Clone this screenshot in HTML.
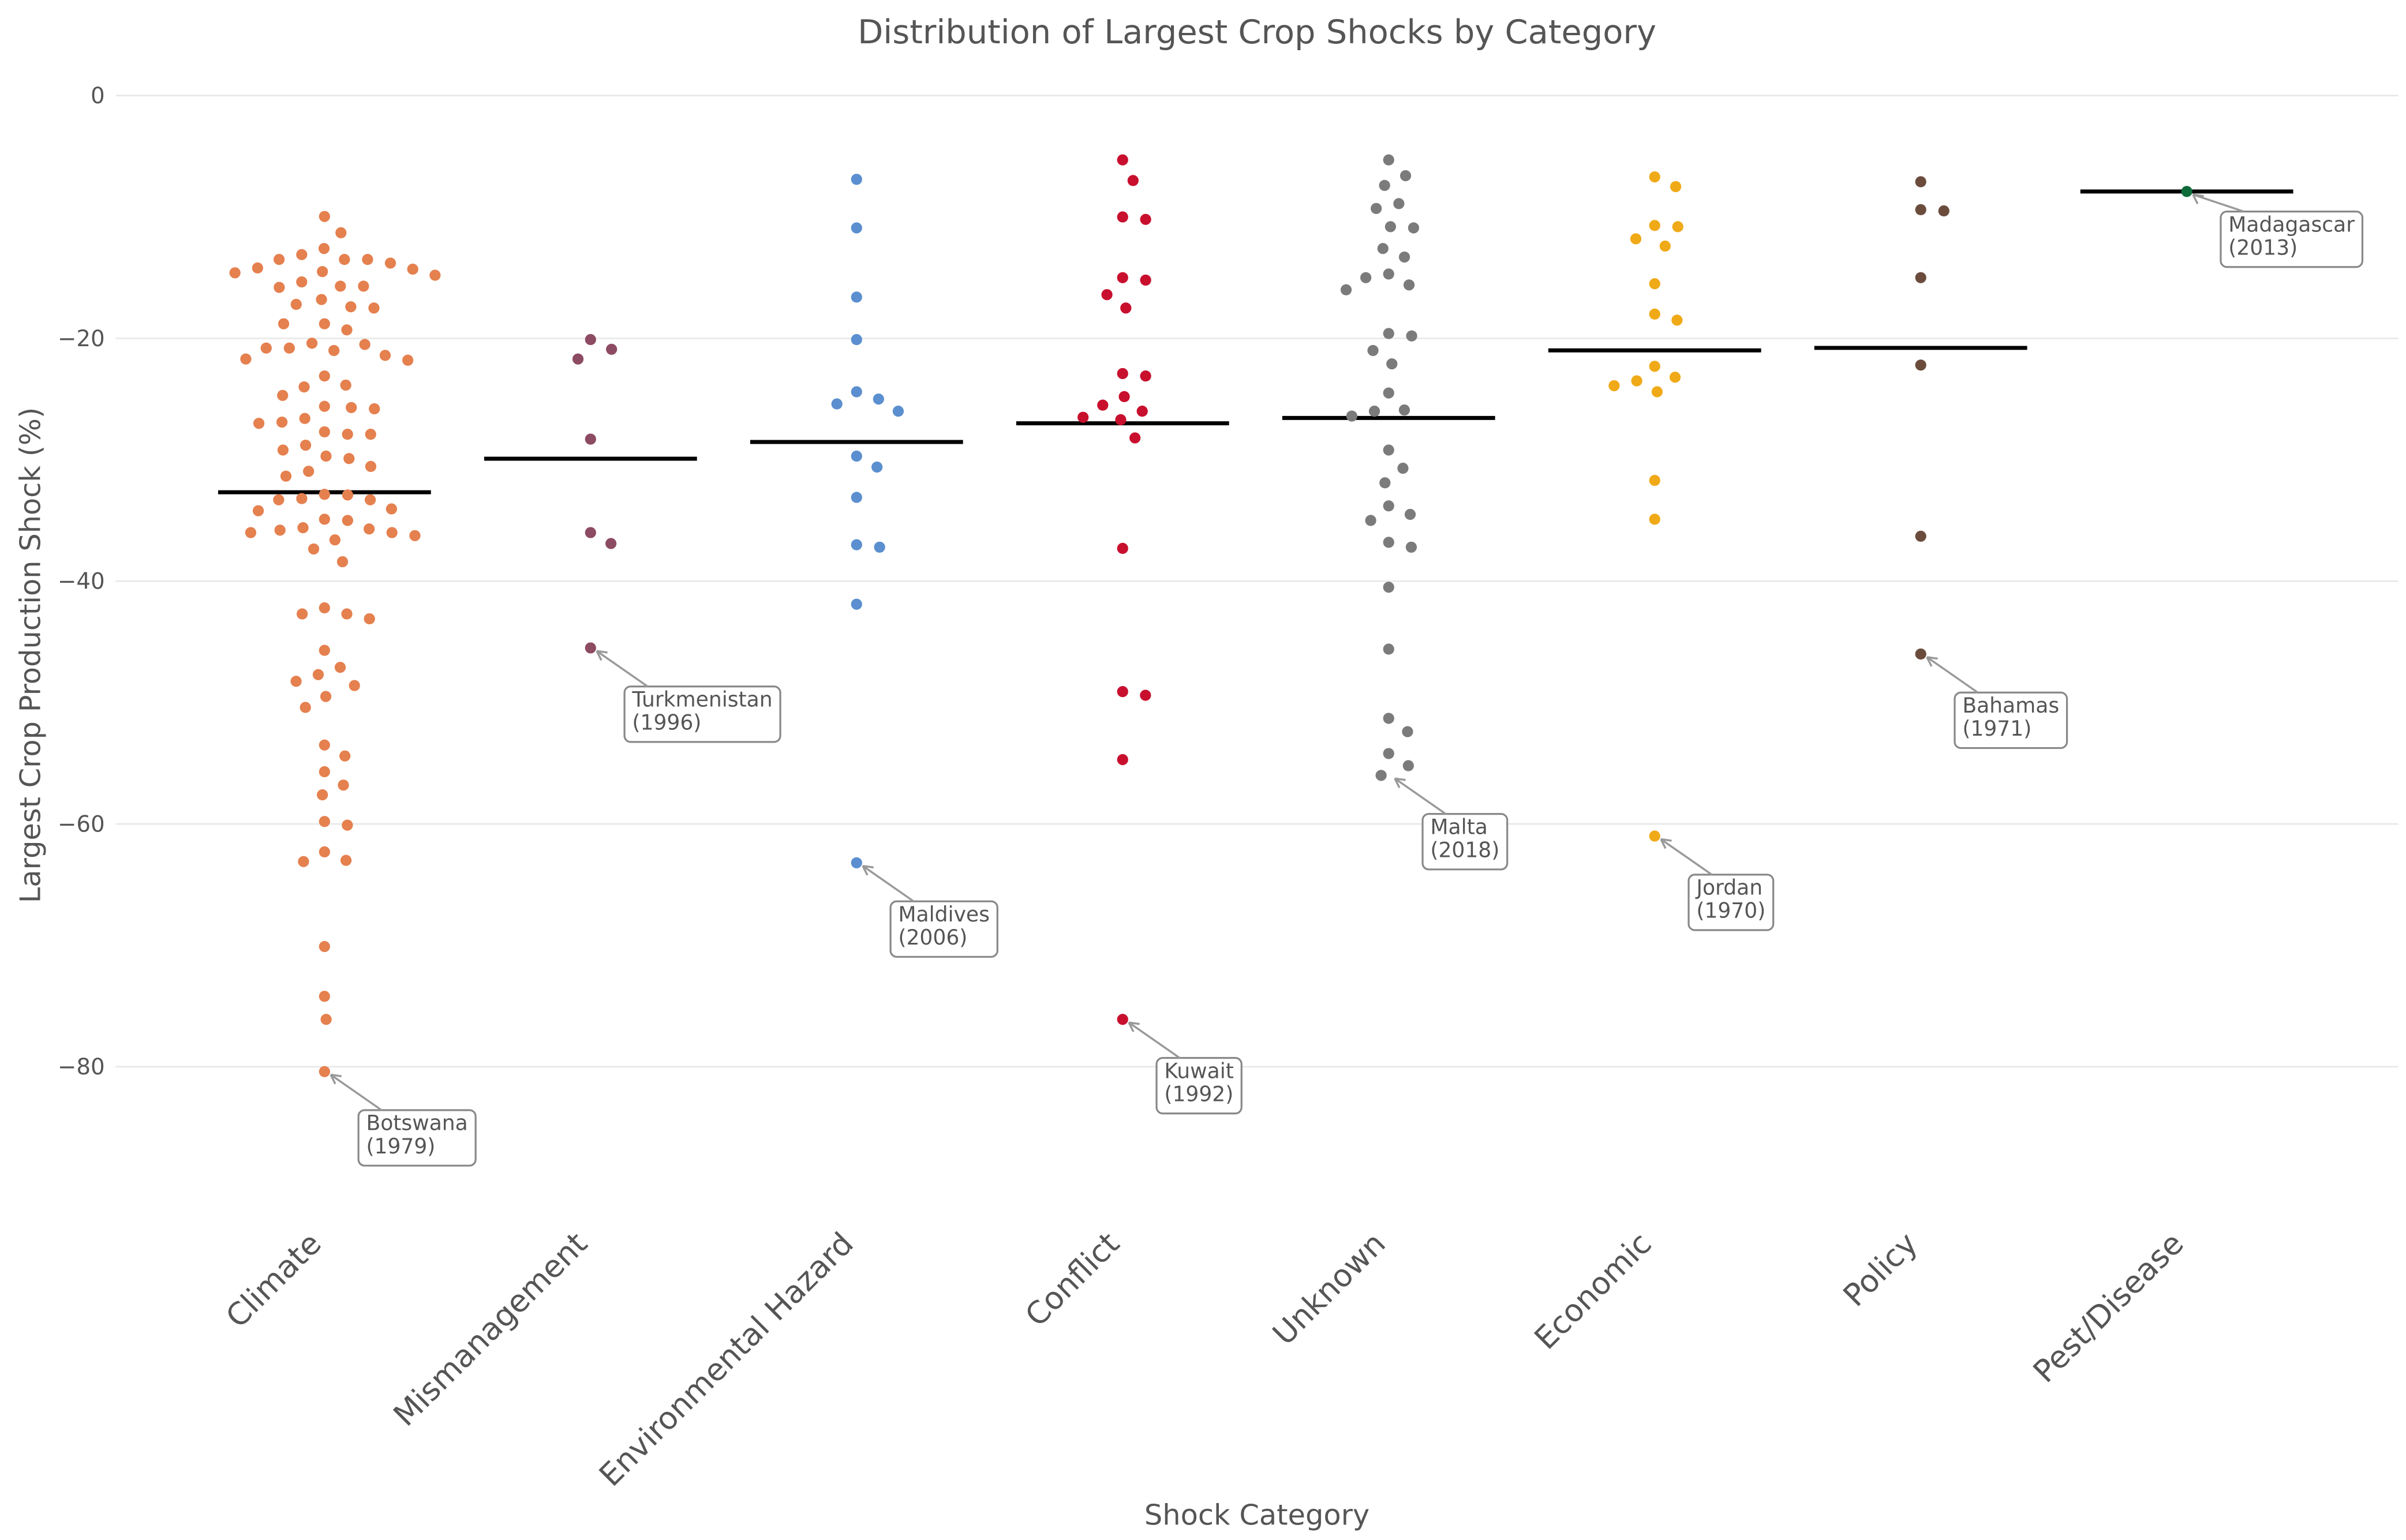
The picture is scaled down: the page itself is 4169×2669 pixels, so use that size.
<!DOCTYPE html>
<html><head><meta charset="utf-8"><style>
html,body{margin:0;padding:0;background:#fff;}
svg{display:block;font-family:"DejaVu Sans","Liberation Sans",sans-serif;}
</style></head><body>
<svg id="chart" width="4169" height="2669" viewBox="0 0 1560 999" preserveAspectRatio="none" xmlns="http://www.w3.org/2000/svg">
<text x="815" y="28" text-anchor="middle" font-size="21.5" fill="#555">Distribution of Largest Crop Shocks by Category</text>
<text x="815" y="989" text-anchor="middle" font-size="18.5" fill="#555">Shock Category</text>
<text transform="translate(26,425) rotate(-90)" text-anchor="middle" font-size="18.5" fill="#555">Largest Crop Production Shock (%)</text>
<g id="grid"></g><g id="yticks"></g><g id="xticks"></g><g id="means"></g><g id="dots"></g><g id="ann"></g>
</svg>
<script>
const categories = ["Climate","Mismanagement","Environmental Hazard","Conflict","Unknown","Economic","Policy","Pest/Disease"];
const colors = ["#e5804f","#8c4b62","#5b8fcf","#c8102e","#7b7b7b","#f0aa18","#6b4c3c","#0f6b3a"];
const climateVals = [-9.96,-11.3,-12.6,-13.1,-13.5,-13.5,-13.5,-13.8,-14.2,-14.3,-14.5,-14.6,-14.8,-15.35,-15.7,-15.7,-15.8,-16.8,-17.2,-17.4,-17.5,-18.8,-18.8,-19.3,-20.4,-20.5,-20.8,-20.8,-21.0,-21.4,-21.7,-21.8,-23.1,-23.85,-24.0,-24.7,-25.6,-25.7,-25.8,-26.6,-26.9,-27.0,-27.7,-27.9,-27.9,-28.8,-29.2,-29.7,-29.9,-30.55,-30.95,-31.35,-32.85,-32.9,-33.2,-33.3,-33.3,-34.05,-34.2,-34.9,-35.0,-35.6,-35.7,-35.8,-36.0,-36.0,-36.25,-36.6,-37.35,-38.4,-42.2,-42.7,-42.7,-43.1,-45.7,-47.1,-47.7,-48.25,-48.6,-49.5,-50.4,-53.5,-54.4,-55.7,-56.8,-57.6,-59.8,-60.1,-62.3,-63.0,-63.1,-70.1,-74.2,-76.1,-80.4];
const mismanagementVals = [-20.1,-20.9,-21.7,-28.3,-36.0,-36.9,-45.5];
const envHazardVals = [-6.9,-10.9,-16.6,-20.1,-24.4,-25.0,-25.4,-26.0,-29.7,-30.6,-33.1,-37.0,-37.2,-41.9,-63.2];
const conflictVals = [-5.3,-7.0,-10.0,-10.2,-15.0,-15.2,-16.4,-17.5,-22.9,-23.1,-24.8,-25.5,-26.0,-26.5,-26.7,-28.2,-37.3,-49.1,-49.4,-54.7,-76.1];
const unknownVals = [-5.3,-6.6,-7.4,-8.9,-9.3,-10.8,-10.9,-12.6,-13.3,-14.7,-15.0,-15.6,-16.0,-19.6,-19.8,-21.0,-22.1,-24.5,-25.9,-26.0,-26.4,-29.2,-30.7,-31.9,-33.8,-34.5,-35.0,-36.8,-37.2,-40.5,-45.6,-51.3,-52.4,-54.2,-55.2,-56.0];
const economicVals = [-6.7,-7.5,-10.7,-10.8,-11.8,-12.4,-15.5,-18.0,-18.5,-22.3,-23.2,-23.5,-23.9,-24.4,-31.7,-34.9,-61.0];
const policyVals = [-7.1,-9.4,-9.5,-15.0,-22.2,-36.3,-46.0];
const pestVals = [-7.9];
const yTicks = [0,-20,-40,-60,-80];
const yTickLabels = ["0","\u221220","\u221240","\u221260","\u221280"];
const annLabels = [["Botswana","(1979)"],["Turkmenistan","(1996)"],["Maldives","(2006)"],["Kuwait","(1992)"],["Malta","(2018)"],["Jordan","(1970)"],["Bahamas","(1971)"],["Madagascar","(2013)"]];
const annValues = [-80.4,-45.5,-63.2,-76.1,-56.0,-61.0,-46.0,-7.9];

const series = [climateVals,mismanagementVals,envHazardVals,conflictVals,unknownVals,economicVals,policyVals,pestVals];
const NS="http://www.w3.org/2000/svg";
const X0=75, X1=1555, XMIN=-0.785, XMAX=7.795, Y0=62, PER=7.875;
function xScale(i){return X0+(i-XMIN)/(XMAX-XMIN)*(X1-X0);}
function yScale(v){return Y0-v*PER;}
function mk(tag,attrs,parent){const e=document.createElementNS(NS,tag);for(const k in attrs)e.setAttribute(k,attrs[k]);parent.appendChild(e);return e;}
const grid=document.getElementById('grid'),yt=document.getElementById('yticks'),xt=document.getElementById('xticks'),
 means=document.getElementById('means'),dots=document.getElementById('dots'),ann=document.getElementById('ann');
yTicks.forEach((t,i)=>{
 const l=mk('line',{x1:X0,x2:X1,y1:yScale(t),y2:yScale(t),stroke:'#e8e8e8','stroke-width':1},grid);
 
 
 const tx=mk('text',{x:68,y:yScale(t)+5,'text-anchor':'end','font-size':14.5,fill:'#555'},yt);
 tx.textContent=yTickLabels[i];
 
 
});
categories.forEach((c,i)=>{
 const x=xScale(i);
 const tx=mk('text',{x:0,y:0,'text-anchor':'end','font-size':20,fill:'#555',transform:`translate(${x-1},${808}) rotate(-45)`},xt);
 tx.textContent=c;
 
 
 const vals=series[i];
 const mean=vals.reduce((a,b)=>a+b,0)/vals.length;
 const ml=mk('line',{x1:x-69,x2:x+69,y1:yScale(mean),y2:yScale(mean),stroke:'#000','stroke-width':2.6},means);
 
 
 const d=15, placed=[];
 const order=vals.map((v,k)=>k).sort((a,b)=>vals[b]-vals[a]);
 order.forEach(k=>{
  const y=yScale(vals[k]);
  const cands=[0];
  placed.forEach(p=>{const dy=Math.abs(p.y-y);if(dy<d){const dx=Math.sqrt(d*d-dy*dy);cands.push(p.x+dx,p.x-dx);}});
  cands.sort((a,b)=>Math.abs(a)-Math.abs(b));
  let best=0;
  for(const cx of cands){if(placed.every(p=>(p.x-cx)**2+(p.y-y)**2>=d*d-0.01)){best=cx;break;}}
  placed.push({x:best,y:y});
  const dot=mk('ellipse',{cx:x+best,cy:y,rx:3.6,ry:3.6,fill:colors[i]},dots);
  
  
 });
});
annLabels.forEach((lab,i)=>{
 const px=xScale(i), py=yScale(annValues[i]);
 const dy = i===7?26:38;
 const tx=px+27, ty=py+dy;
 const g=mk('g',{},ann);
 
 
 const rect=mk('rect',{x:tx-5,y:ty-13,width:60,height:36,rx:4,fill:'#fff',stroke:'#888','stroke-width':1.2},g);
 mk('line',{x1:tx+10,y1:ty-13,x2:px+4,y2:py+2,stroke:'#999','stroke-width':1.3},g);
 mk('path',{d:`M${px+4},${py+2} l7,1 M${px+4},${py+2} l3,6`,stroke:'#999','stroke-width':1.3,fill:'none'},g);
 const t1=mk('text',{x:tx,y:ty,'font-size':13.5,fill:'#555'},g); t1.textContent=lab[0];
 const t2=mk('text',{x:tx,y:ty+15,'font-size':13.5,fill:'#555'},g); t2.textContent=lab[1];
 const w=Math.max(t1.getComputedTextLength(),t2.getComputedTextLength());
 rect.setAttribute('width',w+10);
});
</script>
</body></html>
